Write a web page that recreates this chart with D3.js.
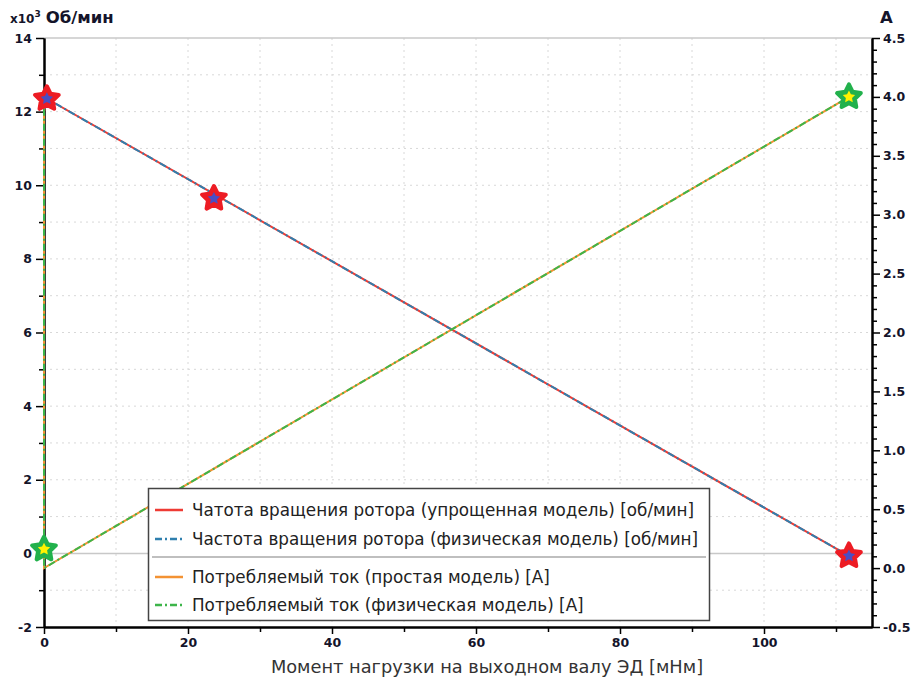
<!DOCTYPE html>
<html>
<head>
<meta charset="utf-8">
<script src="https://cdn.jsdelivr.net/npm/d3@7"></script>
<style>
  body { margin: 0; background: #fff; }
  .tick text { font-family: "DejaVu Sans", sans-serif; font-weight: bold; font-size: 12.5px; fill: #14142a; }
</style>
</head>
<body>
<div id="chart"></div>
<script>
// load torque values [mNm]
var speedTorque = [0, 0, 0.4, 111.8];
var speedValues = [0, 12.0, 12.35, -0.07];        // x10^3 об/мин
var currentTorque = [0, 0, 111.8];
var currentValues = [3.9, 0, 4.0];                // A

// star markers
var speedMarkTorque = [0.4, 23.6, 111.8];
var speedMarkValues = [12.35, 9.64, -0.07];
var currentMarkTorque = [0, 111.8];
var currentMarkValues = [0.16, 4.0];

var legendLabels = [
  "Чатота вращения ротора (упрощенная модель) [об/мин]",
  "Частота вращения ротора (физическая модель) [об/мин]",
  "Потребляемый ток (простая модель) [А]",
  "Потребляемый ток (физическая модель) [А]"
];

var svgWidth = 912;
var svgHeight = 681;

var svg = d3.select("#chart")
  .append("svg")
  .attr("width", svgWidth)
  .attr("height", svgHeight);

var plotLeft = 44, plotRight = 872, plotTop = 38, plotBottom = 627;

var x = d3.scaleLinear().domain([0, 115]).range([plotLeft, plotRight]);
var yL = d3.scaleLinear().domain([-2, 14]).range([plotBottom, plotTop]);
var yR = d3.scaleLinear().domain([-0.5, 4.5]).range([plotBottom, plotTop]);

// plain hyphen instead of unicode minus
function fmt(spec) {
  var f = d3.format(spec);
  return d => f(d).replace("\u2212", "-");
}

// grid
var grid = svg.append("g");
grid.selectAll(".vg")
  .data(d3.range(10, 115, 10))
  .enter().append("line")
  .attr("x1", d => x(d)).attr("x2", d => x(d))
  .attr("y1", plotTop).attr("y2", plotBottom)
  .attr("stroke", "#d8d8d8").attr("stroke-dasharray", "2,4");
grid.selectAll(".hg")
  .data(d3.range(-1, 14, 1).filter(d => d !== 0))
  .enter().append("line")
  .attr("x1", plotLeft).attr("x2", plotRight)
  .attr("y1", d => yL(d)).attr("y2", d => yL(d))
  .attr("stroke", "#d8d8d8").attr("stroke-dasharray", "2,4");

// zero line and top frame
svg.append("line").attr("x1", plotLeft).attr("x2", plotRight)
  .attr("y1", yL(0)).attr("y2", yL(0)).attr("stroke", "#c8c8c8").attr("stroke-width", 1.5);
svg.append("line").attr("x1", plotLeft).attr("x2", plotRight)
  .attr("y1", plotTop).attr("y2", plotTop).attr("stroke", "#c8c8c8").attr("stroke-width", 1.5);

// axes
function styleAxis(g) {
  g.select(".domain").attr("stroke", "#000").attr("stroke-width", 2);
  g.selectAll(".tick line").attr("stroke", "#000").attr("stroke-width", 1.5);
}

// minor ticks first
svg.append("g").attr("transform", `translate(0,${plotBottom})`)
  .call(d3.axisBottom(x).tickValues(d3.range(10, 115, 20)).tickSize(5).tickSizeOuter(0).tickFormat(""))
  .call(styleAxis);
svg.append("g").attr("transform", `translate(${plotLeft},0)`)
  .call(d3.axisLeft(yL).tickValues(d3.range(-1, 14, 2)).tickSize(5).tickSizeOuter(0).tickFormat(""))
  .call(styleAxis);
svg.append("g").attr("transform", `translate(${plotRight},0)`)
  .call(d3.axisRight(yR).tickValues(d3.range(-5, 45, 1).filter(d => d % 5 !== 0).map(d => d / 10)).tickSize(5).tickSizeOuter(0).tickFormat(""))
  .call(styleAxis);

svg.append("g").attr("transform", `translate(0,${plotBottom})`)
  .call(d3.axisBottom(x).tickValues(d3.range(0, 101, 20)).tickSize(7).tickSizeOuter(0).tickPadding(4).tickFormat(fmt("d")))
  .call(styleAxis);
svg.append("g").attr("transform", `translate(${plotLeft},0)`)
  .call(d3.axisLeft(yL).tickValues(d3.range(-2, 15, 2)).tickSize(8).tickSizeOuter(0).tickPadding(4).tickFormat(fmt("d")))
  .call(styleAxis);
svg.append("g").attr("transform", `translate(${plotRight},0)`)
  .call(d3.axisRight(yR).tickValues(d3.range(-5, 46, 5).map(d => d / 10)).tickSize(8).tickSizeOuter(0).tickPadding(3).tickFormat(fmt(".1f")))
  .call(styleAxis);

// axis titles
var t = svg.append("text").attr("x", 10).attr("y", 23)
  .attr("font-family", "DejaVu Sans, sans-serif").attr("font-weight", "bold").attr("fill", "#14142a");
t.append("tspan").attr("font-size", "12px").text("x10");
t.append("tspan").attr("font-size", "9px").attr("dy", -6).text("3");
t.append("tspan").attr("font-size", "16.5px").attr("dy", 6).attr("dx", 5).text("Об/мин");

svg.append("text").attr("x", 880).attr("y", 23)
  .attr("font-family", "DejaVu Sans, sans-serif").attr("font-weight", "bold")
  .attr("font-size", "16.5px").attr("fill", "#14142a").text("А");

svg.append("text").attr("x", 487).attr("y", 673)
  .attr("text-anchor", "middle")
  .attr("font-family", "DejaVu Sans, sans-serif").attr("font-size", "17.8px")
  .attr("fill", "#333").text("Момент нагрузки на выходном валу ЭД [мНм]");

// lines
var speedLine = d3.line().x(d => x(d[0])).y(d => yL(d[1]));
var currentLine = d3.line().x(d => x(d[0])).y(d => yR(d[1]));
var speedData = d3.zip(speedTorque, speedValues);
var currentData = d3.zip(currentTorque, currentValues);

var colors = ["#ee3b34", "#2f7fae", "#f39233", "#3db54a"];
var dashes = [null, "7,3,2,3", null, "7,3,2,3"];

svg.append("path").datum(speedData).attr("d", speedLine)
  .attr("fill", "none").attr("stroke", colors[0]).attr("stroke-width", 2);
svg.append("path").datum(speedData).attr("d", speedLine)
  .attr("fill", "none").attr("stroke", colors[1]).attr("stroke-width", 2).attr("stroke-dasharray", dashes[1]);
svg.append("path").datum(currentData).attr("d", currentLine)
  .attr("fill", "none").attr("stroke", colors[2]).attr("stroke-width", 2);
svg.append("path").datum(currentData).attr("d", currentLine)
  .attr("fill", "none").attr("stroke", colors[3]).attr("stroke-width", 2).attr("stroke-dasharray", dashes[3]);

// star path
function star(r) {
  var pts = [];
  for (var i = 0; i < 10; i++) {
    var rr = i % 2 === 0 ? r : r * 0.5;
    var a = -Math.PI / 2 + i * Math.PI / 5;
    pts.push([rr * Math.cos(a), rr * Math.sin(a)]);
  }
  return "M" + pts.map(p => p.join(",")).join("L") + "Z";
}

function drawStars(tx, vals, yScale, outer, inner) {
  var g = svg.append("g").selectAll("g")
    .data(d3.zip(tx, vals)).enter().append("g")
    .attr("transform", d => `translate(${x(d[0])},${yScale(d[1])})`);
  g.append("path").attr("d", star(12.5)).attr("fill", outer)
    .attr("stroke", outer).attr("stroke-width", 4).attr("stroke-linejoin", "round");
  g.append("path").attr("d", star(6.5)).attr("fill", inner);
}
drawStars(speedMarkTorque, speedMarkValues, yL, "#ed1c24", "#4a4ec4");
drawStars(currentMarkTorque, currentMarkValues, yR, "#22b14c", "#fff200");

// legend
var lg = svg.append("g");
lg.append("rect").attr("x", 148.5).attr("y", 488.5).attr("width", 561).attr("height", 132)
  .attr("fill", "#fff").attr("stroke", "#444").attr("stroke-width", 1.5);
lg.append("line").attr("x1", 152).attr("x2", 706).attr("y1", 557).attr("y2", 557)
  .attr("stroke", "#aaa").attr("stroke-width", 1.5);
var rowsY = [510, 539, 577, 605];
legendLabels.forEach(function(label, i) {
  lg.append("line").attr("x1", 155).attr("x2", 183).attr("y1", rowsY[i]).attr("y2", rowsY[i])
    .attr("stroke", colors[i]).attr("stroke-width", 2.5).attr("stroke-dasharray", dashes[i]);
  lg.append("text").attr("x", 192).attr("y", rowsY[i] + 6)
    .attr("font-family", "DejaVu Sans, sans-serif").attr("font-size", "16.8px")
    .attr("fill", "#222").text(label);
});
</script>
</body>
</html>
